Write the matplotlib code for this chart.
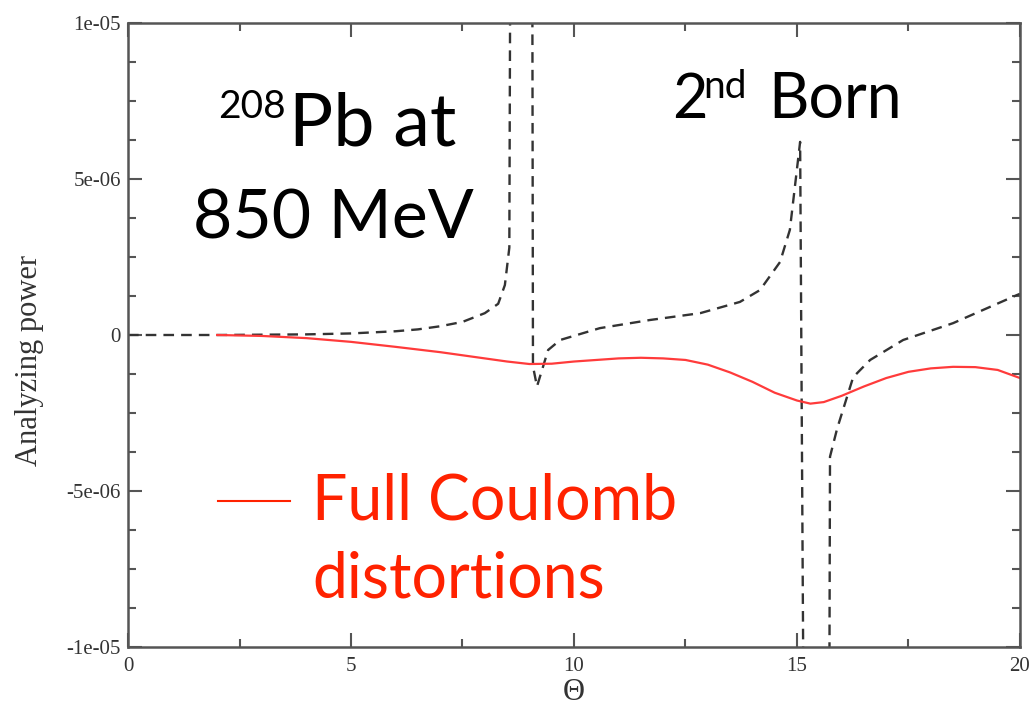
import numpy as np
import matplotlib.pyplot as plt

# 2nd Born (dashed) - values in units of 1e-6, values beyond +-10 run off the plot
born_theta = [0, 2, 4, 5, 6, 6.5, 7, 7.5, 8.0, 8.3, 8.45, 8.55, 8.6, 9.05, 9.08, 9.17,
              9.42, 9.69, 10.58, 11.7, 12.83, 13.72, 14.17, 14.62, 14.84, 15.07, 15.2,
              15.7, 15.74, 15.9, 16.26, 16.64, 17.38, 18.5, 19.93, 20.0]
born_val = [0, 0, 0.02, 0.05, 0.12, 0.18, 0.28, 0.42, 0.7, 1.0, 1.6, 2.8, 25, 25, -1.0, -1.65,
            -0.48, -0.16, 0.22, 0.48, 0.7, 1.06, 1.44, 2.34, 3.37, 6.19, -25,
            -25, -3.9, -3.0, -1.35, -0.8, -0.16, 0.38, 1.28, 1.32]

# Full Coulomb distortions (solid red)
full_theta = [2, 3, 4, 5, 6, 7, 8, 8.5, 9, 9.5, 10, 11, 11.5, 12, 12.5, 13, 13.5, 14,
              14.5, 15, 15.3, 15.6, 16, 16.5, 17, 17.5, 18, 18.5, 19, 19.5, 20]
full_val = [0, -0.03, -0.1, -0.22, -0.38, -0.55, -0.75, -0.85, -0.93, -0.92, -0.85, -0.75,
            -0.73, -0.75, -0.8, -0.95, -1.2, -1.5, -1.85, -2.1, -2.2, -2.15, -1.95, -1.65,
            -1.38, -1.18, -1.07, -1.02, -1.03, -1.12, -1.38]

yticks = [-1e-05, -5e-06, 0, 5e-06, 1e-05]
ytick_labels = ["-1e-05", "-5e-06", "0", "5e-06", "1e-05"]
xticks = [0, 5, 10, 15, 20]

W, H = 1031, 705
fig = plt.figure(figsize=(W / 100, H / 100), dpi=100)
ax = fig.add_axes([128 / W, 1 - 647 / H, (1020 - 128) / W, (647 - 23) / H])

ax.plot(born_theta, np.array(born_val) * 1e-6, color="#333333", lw=1.7,
        linestyle=(0, (4.5, 3)))
ax.plot(full_theta, np.array(full_val) * 1e-6, color="#ff3b3b", lw=1.6)

ax.set_xlim(0, 20)
ax.set_ylim(-1e-05, 1e-05)
ax.set_xticks(xticks)
ax.set_xticks(np.arange(2.5, 20, 5), minor=True)
ax.set_yticks(yticks)
ax.set_yticklabels(ytick_labels)
ax.set_yticks(np.arange(-1e-05, 1.01e-05, 1.25e-06), minor=True)
ax.tick_params(which="both", direction="in", top=True, right=True, color="#555555", width=1.5)
ax.tick_params(which="major", length=10, labelsize=15, pad=5)
ax.tick_params(which="minor", length=6)
ax.tick_params(axis="x", which="major", pad=7)
for lab in ax.get_xticklabels() + ax.get_yticklabels():
    lab.set_fontfamily("Liberation Serif")
    lab.set_color("#333333")
for sp in ax.spines.values():
    sp.set_color("#555555")
    sp.set_linewidth(1.8)


def ftext(x, y, s, **kw):
    fig.text(x / W, 1 - y / H, s, **kw)


# axis labels placed like the reference
ftext(30, 360, "Analyzing power", family="Liberation Serif", fontsize=22, rotation=90,
      ha="center", va="center", color="#333333")
ftext(574, 692, "Θ", family="Liberation Serif", fontsize=22, ha="center", va="center",
      color="#333333")

big = dict(va="baseline", ha="left", family="Lato")
ftext(218, 118, "208", fontsize=28, color="black", **big)
ftext(289, 145, "Pb at", fontsize=53, color="black", **big)
ftext(193, 238, "850 MeV", fontsize=49, color="black", **big)
ftext(672, 118, "2", fontsize=44, color="black", **big)
ftext(703, 98, "nd", fontsize=28, color="black", **big)
ftext(768, 118, "Born", fontsize=45, color="black", **big)

fig.add_artist(plt.Line2D([218 / W, 290 / W], [1 - 501 / H, 1 - 501 / H],
                          color="#ff2200", lw=1.5))
ftext(312, 519, "Full Coulomb", fontsize=45, color="#ff2200", **big)
ftext(312, 597, "distortions", fontsize=45, color="#ff2200", **big)

fig.savefig("out.png", dpi=100)
